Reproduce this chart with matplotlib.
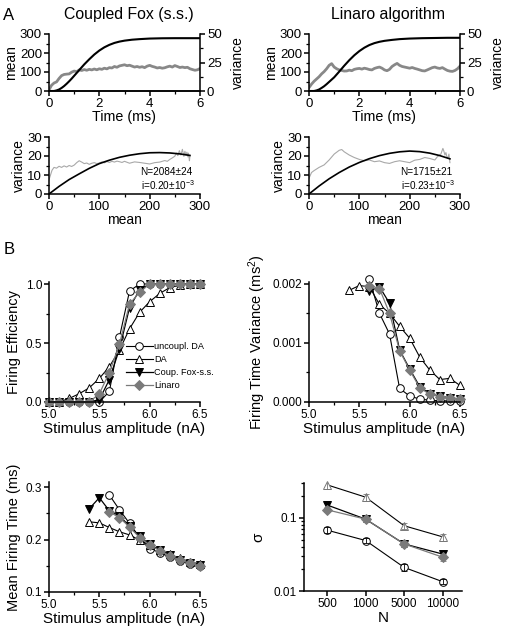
import matplotlib
matplotlib.use('Agg')
import matplotlib.pyplot as plt
from matplotlib.ticker import MultipleLocator, FormatStrFormatter, FixedLocator, FixedFormatter, LogLocator, NullFormatter

plt.rcParams['font.family'] = ['Liberation Sans', 'DejaVu Sans']
plt.rcParams['mathtext.fontset'] = 'custom'
plt.rcParams['mathtext.rm'] = 'Liberation Sans'
plt.rcParams['mathtext.it'] = 'Liberation Sans:italic'

# ---------------- panel A data ----------------
# mean (black) vs time
t_mean_fox = [0, 0.2, 0.3, 0.4, 0.5, 0.6, 0.7, 0.8, 0.9, 1.0, 1.2, 1.4, 1.6, 1.8, 2.0,
              2.2, 2.4, 2.6, 2.8, 3.0, 3.3, 3.6, 4.0, 4.5, 5.0, 5.5, 6.0]
mean_fox = [0, 0, 3, 8, 16, 26, 38, 51, 65, 80, 110, 140, 167, 192, 213,
            230, 243, 253, 260, 265, 270, 273, 276, 277.5, 278, 278, 278]
t_mean_lin = t_mean_fox
mean_lin = [0, 0, 3, 8, 16, 25, 36, 48, 60, 72, 102, 133, 162, 188, 210,
            228, 242, 252, 259, 264, 269, 273, 276, 278, 279, 280, 280]

# variance (gray) vs time, 0..6 ms every 0.1 ms
t_var = [round(0.1 * k, 1) for k in range(61)]
var_fox = [1, 5, 7, 8, 11, 13.5, 14.5, 14.8, 15, 16.5,
           17.5, 17, 18.5, 18, 18.8, 18.2, 19, 18.5, 19.3, 18.6,
           19.5, 19, 20, 19.4, 20.5, 20.2, 21.5, 20.8, 22, 22.5,
           23, 22.2, 22.6, 21.8, 21, 21.5, 20.8, 21.3, 20.5, 21.8,
           22.5, 21.6, 21, 20.2, 20.6, 20, 20.4, 21.2, 21.8, 21,
           22.3, 21.5, 20.6, 21, 20.5, 20.8, 19.5, 18.8, 18.2, 18.6,
           19.7]
var_lin = [3, 6, 8.5, 10.5, 12.5, 15, 17, 19.5, 22.5, 24,
           21, 19.5, 18.5, 18, 17.5, 17.6, 18.3, 17.8, 19, 19.5,
           19.8, 19.2, 20, 19.5, 18.8, 18.5, 19.8, 20.5, 21, 20,
           18.5, 17.8, 19, 21.5, 23, 24.2, 22.5, 21.5, 21, 20.5,
           20, 20.6, 19.8, 19.2, 18.5, 17.8, 17.6, 18.5, 19.5, 20.5,
           21, 20.2, 19.8, 20.5, 19.2, 18, 17.4, 17.2, 18, 19.5,
           21.8]

# variance vs mean: fitted parabola (black) and data (gray)
fit_m = [0, 20, 40, 60, 80, 100, 120, 140, 160, 180, 200, 220, 240, 260, 280]
fit_fox = [0, 4, 7.6, 10.6, 13.5, 16, 17.8, 19.3, 20.4, 21.2, 21.7, 21.8, 21.6, 21.1, 20.3]
fit_lin = [0, 4.2, 8, 11.3, 14.2, 16.6, 18.6, 20.2, 21.4, 22.2, 22.6, 22.3, 21.5, 20.2, 18.5]

vm_fox_m = [0, 3, 6, 10, 15, 20, 25, 30, 35, 40, 45, 50, 55, 60, 65, 70, 75, 80, 85, 90,
            95, 100, 105, 110, 115, 120, 125, 130, 135, 140, 145, 150, 160, 170, 180, 190,
            200, 210, 220, 230, 235, 240, 245, 250, 253, 256, 259, 262, 265, 268, 270,
            272, 274, 276, 277, 278, 279, 280]
vm_fox_v = [7.5, 10, 12.5, 14, 13.6, 14.6, 14, 14.8, 14.2, 15, 14.5, 15.2, 16.5, 17.5, 16.8,
            16, 16.3, 15.6, 16.2, 16.5, 16, 16.3, 16.9, 16.4, 17.1, 16.6, 17.2, 16.8, 17.3,
            17, 16.6, 17.2, 16.2, 16.9, 16.6, 16.2, 15.8, 16.5, 16.8, 17.6, 17.2, 18.2, 19,
            19.9, 21.5, 20.2, 22.8, 20.5, 23.5, 19.8, 22.5, 20.5, 22, 19.5, 21.5, 20, 17.5, 20]

vm_lin_m = [0, 5, 10, 20, 30, 40, 50, 60, 65, 70, 80, 90, 100, 110, 120, 130, 140, 150,
            160, 170, 180, 190, 200, 210, 220, 230, 240, 250, 255, 262, 266, 268, 270,
            272, 274, 276, 278, 280]
vm_lin_v = [8.3, 11.3, 12.3, 14, 15.3, 17.9, 21, 23, 23.4, 22.2, 20.5, 19.2, 18.2, 17.5,
            17.9, 17, 17.4, 16.5, 16.1, 17, 17.5, 17, 16.5, 17.8, 18.2, 19.2, 18.7, 17.9,
            19.6, 21, 24, 22.5, 20.5, 21.8, 19.6, 18.8, 21, 16.5]

# ---------------- panel B data ----------------
stim = [5.0, 5.1, 5.2, 5.3, 5.4, 5.5, 5.6, 5.7, 5.8, 5.9, 6.0, 6.1, 6.2, 6.3, 6.4, 6.5]
eff_unc = [0, 0, 0, 0, 0, 0, 0.09, 0.55, 0.94, 1.0, 1.0, 1.0, 1.0, 1.0, 1.0, 1.0]
eff_da = [0, 0, 0.03, 0.07, 0.12, 0.20, 0.30, 0.44, 0.62, 0.76, 0.85, 0.92, 0.97, 0.99, 1.0, 1.0]
eff_fox = [0, 0, 0, 0, 0, 0.02, 0.19, 0.45, 0.80, 0.95, 1.0, 1.0, 1.0, 1.0, 1.0, 1.0]
eff_lin = [0, 0, 0, 0, 0, 0.07, 0.25, 0.49, 0.83, 0.93, 1.0, 1.0, 1.0, 1.0, 1.0, 1.0]

stim_unc = [5.6, 5.7, 5.8, 5.9, 6.0, 6.1, 6.2, 6.3, 6.4, 6.5]
stim_da = [5.4, 5.5, 5.6, 5.7, 5.8, 5.9, 6.0, 6.1, 6.2, 6.3, 6.4, 6.5]
stim_fox = [5.4, 5.5, 5.6, 5.7, 5.8, 5.9, 6.0, 6.1, 6.2, 6.3, 6.4, 6.5]
stim_lin = [5.6, 5.7, 5.8, 5.9, 6.0, 6.1, 6.2, 6.3, 6.4, 6.5]

ftv_unc = [0.00208, 0.00150, 0.00115, 0.00023, 0.00010, 0.00005, 0.00003, 0.00002, 0.00002, 0.00001]
ftv_da = [0.00189, 0.00197, 0.00195, 0.00165, 0.00150, 0.00128, 0.00108, 0.00076, 0.00054,
          0.00038, 0.00040, 0.00028]
stim_fox_v = [5.6, 5.7, 5.8, 5.9, 6.0, 6.1, 6.2, 6.3, 6.4, 6.5]
ftv_fox = [0.00187, 0.00195, 0.00167, 0.00088, 0.00056, 0.00026, 0.00014, 0.00010, 0.00007, 0.00005]
ftv_lin = [0.00197, 0.00192, 0.00150, 0.00087, 0.00054, 0.00024, 0.00013, 0.00009, 0.00007, 0.00005]

mft_unc = [0.285, 0.257, 0.231, 0.204, 0.183, 0.175, 0.167, 0.160, 0.154, 0.150]
mft_da = [0.234, 0.232, 0.223, 0.215, 0.209, 0.199, 0.190, 0.181, 0.172, 0.164, 0.158, 0.153]
mft_fox = [0.259, 0.280, 0.255, 0.245, 0.226, 0.206, 0.191, 0.180, 0.170, 0.162, 0.156, 0.151]
mft_lin = [0.253, 0.242, 0.224, 0.204, 0.190, 0.179, 0.169, 0.161, 0.155, 0.150]

n_labels = ['500', '1000', '5000', '10000']
sig_da = [0.283, 0.192, 0.078, 0.055]
sig_fox = [0.150, 0.096, 0.044, 0.032]
sig_lin = [0.129, 0.096, 0.044, 0.029]
sig_unc = [0.068, 0.049, 0.021, 0.0134]
err_da = [0.035, 0.02, 0.008, 0.006]
err_fox = [0.012, 0.008, 0.004, 0.003]
err_lin = [0.01, 0.007, 0.004, 0.003]
err_unc = [0.006, 0.004, 0.0025, 0.001]

GRAY = '#888888'
LGRAY = '#a8a8a8'
MGRAY = '#7a7a7a'

W, H = 505, 634
fig = plt.figure(figsize=(W / 100, H / 100), dpi=100)


def box(l, t, r, b):
    return [l / W, 1 - b / H, (r - l) / W, (b - t) / H]


def style(ax, right=False, size=8.5):
    ax.spines['top'].set_visible(False)
    if not right:
        ax.spines['right'].set_visible(False)
    for s in ax.spines.values():
        s.set_linewidth(1.1)
    ax.tick_params(which='major', direction='out', length=3.5, width=1.1, labelsize=size, pad=1.5)
    ax.tick_params(which='minor', direction='out', length=2, width=0.9)


# ---------------- A: mean / variance vs time ----------------
for (l, r), tm, mm, vv, title, tx in [((49, 200), t_mean_fox, mean_fox, var_fox, 'Coupled Fox (s.s.)', 129),
                                       ((309, 460), t_mean_lin, mean_lin, var_lin, 'Linaro algorithm', 388)]:
    ax = fig.add_axes(box(l, 34, r, 91))
    ax2 = ax.twinx()
    ax2.plot(t_var, vv, color=GRAY, lw=2.0)
    ax.plot(tm, mm, color='k', lw=1.5)
    ax.set_zorder(ax2.get_zorder() + 1)
    ax.patch.set_visible(False)
    ax.set_xlim(0, 6)
    ax.set_ylim(0, 300)
    ax2.set_ylim(0, 50)
    ax.set_xticks([0, 2, 4, 6])
    ax.xaxis.set_minor_locator(MultipleLocator(1))
    ax.set_yticks([0, 100, 200, 300])
    ax.yaxis.set_minor_locator(MultipleLocator(50))
    ax2.set_yticks([0, 25, 50])
    ax2.yaxis.set_minor_locator(MultipleLocator(12.5))
    style(ax, size=9.5)
    style(ax2, right=True, size=9.5)
    ax2.spines['left'].set_visible(False)
    ax.set_xlabel('Time (ms)', fontsize=10.3, labelpad=0)
    ax.set_ylabel('mean', fontsize=10, labelpad=1)
    ax2.set_ylabel('variance', fontsize=10, labelpad=7)
    fig.text(tx / W, 1 - 15 / H, title, fontsize=11.4, ha='center', va='center')

# ---------------- A: variance vs mean ----------------
for (l, r), fm, fv, dm, dv, nt, it in [((49, 200), fit_m, fit_fox, vm_fox_m, vm_fox_v, 'N=2084\u00b124', 'i=0.20\u00b110$^{-3}$'),
                                       ((309, 460), fit_m, fit_lin, vm_lin_m, vm_lin_v, 'N=1715\u00b121', 'i=0.23\u00b110$^{-3}$')]:
    ax = fig.add_axes(box(l, 137, r, 194))
    ax.plot(dm, dv, color=LGRAY, lw=0.8)
    ax.plot(fm, fv, color='k', lw=1.2)
    ax.set_xlim(0, 300)
    ax.set_ylim(0, 30)
    ax.set_xticks([0, 100, 200, 300])
    ax.xaxis.set_minor_locator(MultipleLocator(50))
    ax.set_yticks([0, 10, 20, 30])
    ax.yaxis.set_minor_locator(MultipleLocator(5))
    style(ax, size=9.5)
    ax.set_xlabel('mean', fontsize=10, labelpad=0)
    ax.set_ylabel('variance', fontsize=10, labelpad=1)
    ax.text(182, 11.7, nt, fontsize=7.2, va='center')
    ax.text(182, 4.5, it, fontsize=7.2, va='center')

fig.text(3 / W, 1 - 15 / H, 'A', fontsize=12, va='center')
fig.text(4 / W, 1 - 250 / H, 'B', fontsize=12, va='center')

# series styles for panel B
styles = {
    'unc': dict(marker='o', mfc='white', mec='k', color='k', ms=5.5, lw=0.8, mew=0.7),
    'da': dict(marker='^', mfc='white', mec='k', color='k', ms=6, lw=0.8, mew=0.7),
    'fox': dict(marker='v', mfc='k', mec='k', color='k', ms=6, lw=0.9, mew=0.7),
    'lin': dict(marker='D', mfc=MGRAY, mec=MGRAY, color=MGRAY, ms=4.8, lw=0.9, mew=0.7),
}


def stim_axis(ax, ylabel):
    ax.set_xlim(5.0, 6.5)
    ax.set_xticks([5.0, 5.5, 6.0, 6.5])
    ax.xaxis.set_major_formatter(FormatStrFormatter('%.1f'))
    ax.xaxis.set_minor_locator(MultipleLocator(0.25))
    style(ax)
    ax.set_xlabel('Stimulus amplitude (nA)', fontsize=11, labelpad=1)
    ax.set_ylabel(ylabel, fontsize=10.5, labelpad=3)


# ---------------- B1: firing efficiency ----------------
ax = fig.add_axes(box(49, 282, 200, 402))
ax.plot(stim, eff_unc, label='uncoupl. DA', clip_on=False, **styles['unc'])
ax.plot(stim, eff_da, label='DA', clip_on=False, **styles['da'])
ax.plot(stim, eff_fox, label='Coup. Fox-s.s.', clip_on=False, **styles['fox'])
ax.plot(stim, eff_lin, label='Linaro', clip_on=False, **styles['lin'])
ax.set_ylim(0, 1.017)
ax.set_yticks([0, 0.5, 1.0])
ax.yaxis.set_major_formatter(FormatStrFormatter('%.1f'))
ax.yaxis.set_minor_locator(MultipleLocator(0.25))
stim_axis(ax, 'Firing Efficiency')
leg = ax.legend(loc='upper left', bbox_to_anchor=(126 / W, 1 - 342 / H), bbox_transform=fig.transFigure,
                frameon=False, fontsize=6.6, handlelength=2.9, handletextpad=0.2, labelspacing=0.45,
                borderpad=0, borderaxespad=0)

# ---------------- B2: firing time variance ----------------
ax = fig.add_axes(box(309, 282, 460, 402))
ax.plot(stim_unc, ftv_unc, clip_on=False, **styles['unc'])
ax.plot(stim_da, ftv_da, clip_on=False, **styles['da'])
ax.plot(stim_fox_v, ftv_fox, clip_on=False, **styles['fox'])
ax.plot(stim_lin, ftv_lin, clip_on=False, **styles['lin'])
ax.set_ylim(0, 0.00203)
ax.set_yticks([0, 0.001, 0.002])
ax.yaxis.set_major_formatter(FormatStrFormatter('%.3f'))
ax.yaxis.set_minor_locator(MultipleLocator(0.0005))
stim_axis(ax, 'Firing Time Variance (ms$^2$)')

# ---------------- B3: mean firing time ----------------
ax = fig.add_axes(box(49, 482, 200, 592))
ax.plot(stim_unc, mft_unc, clip_on=False, **styles['unc'])
ax.plot(stim_da, mft_da, clip_on=False, **styles['da'])
ax.plot(stim_fox, mft_fox, clip_on=False, **styles['fox'])
ax.plot(stim_lin, mft_lin, clip_on=False, **styles['lin'])
ax.set_ylim(0.1, 0.31)
ax.set_yticks([0.1, 0.2, 0.3])
ax.yaxis.set_major_formatter(FormatStrFormatter('%.1f'))
ax.yaxis.set_minor_locator(MultipleLocator(0.05))
stim_axis(ax, 'Mean Firing Time (ms)')

# ---------------- B4: sigma vs N ----------------
ax = fig.add_axes(box(304, 483, 462, 591))
pos = list(range(1, len(n_labels) + 1))
for vals, errs, key, ec in [(sig_unc, err_unc, 'unc', 'k'), (sig_da, err_da, 'da', '#777777'),
                            (sig_fox, err_fox, 'fox', 'k'), (sig_lin, err_lin, 'lin', MGRAY)]:
    st = dict(styles[key])
    if key == 'da':
        st['mec'] = '#777777'
    ax.plot(pos, vals, clip_on=False, **st)
    ax.errorbar(pos, vals, yerr=errs, fmt='none', ecolor=ec, elinewidth=0.6, capsize=2, capthick=0.6)
ax.set_yscale('log')
ax.set_ylim(0.01, 0.3)
ax.set_xlim(0.4, 4.5)
ax.set_xticks(pos)
ax.set_xticklabels(n_labels)
ax.yaxis.set_major_locator(FixedLocator([0.01, 0.1]))
ax.yaxis.set_major_formatter(FixedFormatter(['0.01', '0.1']))
ax.yaxis.set_minor_locator(LogLocator(base=10, subs=range(2, 10)))
ax.yaxis.set_minor_formatter(NullFormatter())
style(ax)
ax.set_xlabel('N', fontsize=11, labelpad=1)
ax.set_ylabel('\u03c3', fontsize=11, labelpad=6)

fig.savefig('out.png', dpi=100)
